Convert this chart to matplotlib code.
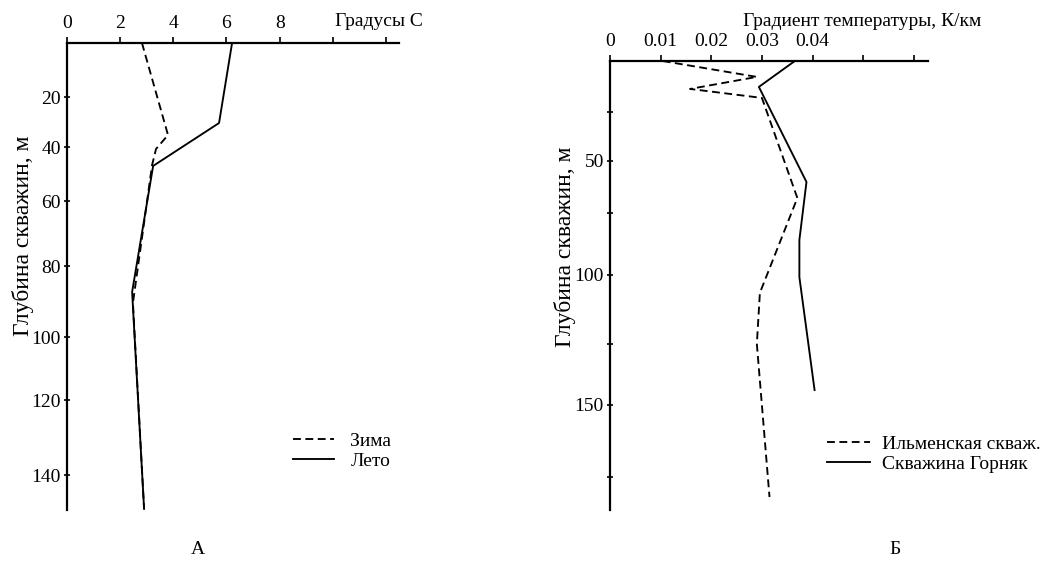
import numpy as np
import matplotlib
matplotlib.use("Agg")
import matplotlib.pyplot as plt

plt.rcParams['font.family'] = ['Liberation Serif', 'DejaVu Serif']

# ---------------- data ----------------
# Panel A: temperature (deg C) vs depth (m)
winter_temp = [2.82, 3.80, 3.35, 3.20, 2.48, 2.90]
winter_depth = [0, 35.2, 40.7, 46.7, 90.4, 149]
summer_temp = [6.21, 5.72, 3.24, 2.45, 2.90]
summer_depth = [0, 30.4, 47.0, 87.3, 149]
a_xticks = [0, 2, 4, 6, 8, 10, 12]
a_xticklabels = ['0', '2', '4', '6', '8', '', '']
a_yticks = [20, 40, 60, 80, 100, 120, 140]
a_yticklabels = ['20', '40', '60', '80', '100', '120', '140']

# Panel B: temperature gradient (K/km) vs depth (m)
ilmen_grad = [0.0104, 0.0290, 0.0158, 0.0300, 0.0370, 0.0296, 0.0290, 0.0315]
ilmen_depth = [0, 7.8, 13.7, 18.1, 67.8, 106.5, 125.0, 182.0]
gorn_grad = [0.0365, 0.0294, 0.0388, 0.0374, 0.0374, 0.0404]
gorn_depth = [0, 12.7, 60.1, 85.9, 100.8, 143.9]
b_xticks = [0, 0.01, 0.02, 0.03, 0.04, 0.05, 0.06]
b_xticklabels = ['0', '0.01', '0.02', '0.03', '0.04', '', '']
b_yticks = [25, 50, 75, 100, 125, 150, 175]
b_yticklabels = ['', '50', '', '100', '', '150', '']

# hand-drawn (non-uniform) depth axes of the original: knot depths and their
# relative screen positions
a_scale_depth = [0, 20, 40, 60, 80, 100, 120, 140]
a_scale_pos = [43, 97, 147, 201, 266, 337, 400, 475]
b_scale_depth = [0, 25, 50, 75, 100, 125, 150, 175]
b_scale_pos = [61, 112, 161, 213, 275, 344, 405, 477]


def make_warp(kd, kp):
    d = np.asarray(kd, float)
    p = np.asarray(kp, float)
    s0 = (p[1] - p[0]) / (d[1] - d[0])
    s1 = (p[-1] - p[-2]) / (d[-1] - d[-2])

    def fwd(x):
        x = np.asarray(x, float)
        y = np.interp(x, d, p)
        y = np.where(x < d[0], p[0] + (x - d[0]) * s0, y)
        y = np.where(x > d[-1], p[-1] + (x - d[-1]) * s1, y)
        return y

    def inv(y):
        y = np.asarray(y, float)
        x = np.interp(y, p, d)
        x = np.where(y < p[0], d[0] + (y - p[0]) / s0, x)
        x = np.where(y > p[-1], d[-1] + (y - p[-1]) / s1, x)
        return x

    return fwd, inv


W, H = 1043, 562
fig = plt.figure(figsize=(W / 100, H / 100), dpi=100)
fig.patch.set_facecolor('white')


def px_axes(l, t, r, b):
    return fig.add_axes([l / W, 1 - b / H, (r - l) / W, (b - t) / H])


FS = 14
dash = (0, (4.2, 2.4))
LW = 1.35


def style(ax):
    for s in ['right', 'bottom']:
        ax.spines[s].set_visible(False)
    for s in ['left', 'top']:
        ax.spines[s].set_linewidth(1.6)
        ax.spines[s].set_color('black')
    ax.xaxis.tick_top()
    ax.tick_params(axis='x', direction='out', length=4, width=1.2, pad=4,
                   labelsize=FS)
    ax.tick_params(axis='y', direction='inout', length=5, width=1.2, pad=2,
                   labelsize=FS)


# ---------------- panel A ----------------
axA = px_axes(67, 43, 399, 510)
style(axA)
axA.set_yscale('function', functions=make_warp(a_scale_depth, a_scale_pos))
axA.plot(winter_temp, winter_depth, color='black', lw=LW, linestyle=dash,
         label='Зима')
axA.plot(summer_temp, summer_depth, color='black', lw=LW, label='Лето')
axA.set_xlim(0, 12.49)
axA.set_ylim(149.3, 0)
axA.set_xticks(a_xticks)
axA.set_xticklabels(a_xticklabels)
axA.set_yticks(a_yticks)
axA.set_yticklabels(a_yticklabels)
axA.minorticks_off()
axA.legend(loc='center left', bbox_to_anchor=(293 / W, 1 - 451 / H),
           bbox_transform=fig.transFigure, frameon=False, fontsize=FS,
           handlelength=2.1, handletextpad=0.85, borderpad=0,
           borderaxespad=0, labelspacing=0.1)

# ---------------- panel B ----------------
axB = px_axes(610, 61, 928, 510)
style(axB)
axB.set_yscale('function', functions=make_warp(b_scale_depth, b_scale_pos))
axB.plot(ilmen_grad, ilmen_depth, color='black', lw=LW, linestyle=dash,
         label='Ильменская скваж.')
axB.plot(gorn_grad, gorn_depth, color='black', lw=LW,
         label='Скважина Горняк')
axB.set_xlim(0, 0.0628)
axB.set_ylim(186.5, 0)
axB.set_xticks(b_xticks)
axB.set_xticklabels(b_xticklabels)
axB.set_yticks(b_yticks)
axB.set_yticklabels(b_yticklabels)
axB.minorticks_off()
axB.legend(loc='center left', bbox_to_anchor=(827 / W, 1 - 454 / H),
           bbox_transform=fig.transFigure, frameon=False, fontsize=FS,
           handlelength=2.2, handletextpad=0.65, borderpad=0,
           borderaxespad=0, labelspacing=0.1)

# ---------------- texts ----------------
fig.text(335 / W, 1 - 21 / H, 'Градусы С', ha='left', va='center', fontsize=FS)
fig.text(743 / W, 1 - 22 / H, 'Градиент температуры, К/км', ha='left',
         va='center', fontsize=FS)
fig.text(23 / W, 1 - 236 / H, 'Глубина скважин, м', rotation=90, ha='center',
         va='center', fontsize=17)
fig.text(565 / W, 1 - 247 / H, 'Глубина скважин, м', rotation=90, ha='center',
         va='center', fontsize=17)
fig.text(198 / W, 1 - 550 / H, 'А', ha='center', va='center', fontsize=FS)
fig.text(895 / W, 1 - 550 / H, 'Б', ha='center', va='center', fontsize=FS)

fig.savefig('out.png', dpi=100, facecolor='white')
